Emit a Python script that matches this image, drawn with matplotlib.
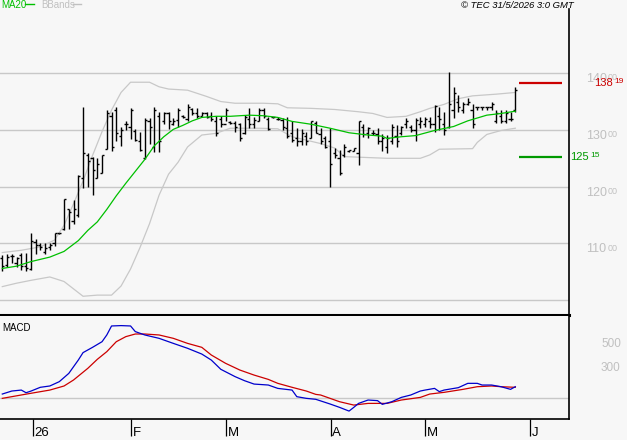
import matplotlib
matplotlib.use("Agg")
import matplotlib.pyplot as plt
import matplotlib.transforms as mtransforms

# ---------------- data ----------------
highs = [107.9, 108.1, 108.1, 107.6, 108.4, 108.4, 111.9, 110.8, 110.1, 110.0,
         110.0, 111.9, 111.9, 117.9, 116.0, 117.6, 122.1, 134.0, 126.0, 125.3,
         125.0, 125.6, 133.5, 133.2, 134.0, 130.6, 131.6, 133.8, 130.1, 129.7,
         132.1, 132.1, 134.0, 133.1, 133.1, 133.2, 132.1, 133.9, 132.6, 134.5,
         133.9, 133.8, 133.1, 133.1, 133.1, 132.4, 132.5, 133.8, 131.6, 131.6,
         131.3, 132.6, 133.9, 132.2, 133.8, 133.9, 132.2, 132.3, 132.2, 132.1,
         132.2, 131.5, 130.3, 130.1, 129.7, 131.6, 131.6, 130.3, 129.0, 130.3,
         126.8, 126.5, 127.5, 126.5, 126.9, 131.6, 131.0, 130.6, 130.0, 130.3,
         129.2, 129.1, 131.0, 130.9, 130.7, 132.1, 130.9, 132.1, 132.2, 132.2,
         132.3, 134.4, 134.1, 133.2, 140.2, 137.5, 136.2, 135.0, 135.6, 134.5,
         134.1, 134.1, 134.1, 135.0, 133.5, 133.5, 133.5, 133.2, 137.5]
lows = [105.2, 105.9, 106.6, 105.9, 105.4, 105.1, 105.3, 108.2, 108.8, 108.1,
        108.9, 109.5, 111.6, 112.4, 112.5, 113.5, 114.7, 119.7, 120.0, 118.5,
        121.5, 122.5, 126.6, 126.2, 128.0, 127.2, 130.0, 128.4, 128.0, 126.2,
        124.9, 127.5, 126.1, 126.1, 131.0, 130.2, 130.9, 130.6, 132.1, 131.6,
        132.6, 132.1, 132.4, 132.1, 131.6, 129.0, 130.6, 131.5, 131.0, 129.6,
        128.1, 129.2, 130.3, 130.3, 131.5, 132.1, 130.0, 132.1, 131.8, 130.0,
        128.5, 127.9, 127.1, 127.3, 127.3, 128.6, 129.4, 127.6, 126.8, 120.0,
        125.0, 122.1, 125.3, 126.1, 126.2, 123.8, 128.8, 128.5, 129.1, 127.6,
        126.2, 126.0, 127.5, 127.0, 129.1, 130.3, 129.7, 128.1, 130.3, 130.6,
        130.3, 129.7, 130.0, 129.1, 130.3, 132.1, 133.2, 132.9, 134.4, 130.3,
        133.5, 133.5, 133.5, 133.5, 131.2, 131.2, 131.2, 131.6, 133.2]
opens = [107.5, 106.2, 107.8, 106.5, 107.9, 106.0, 105.5, 110.2, 109.8, 108.5,
         109.3, 110.0, 111.8, 112.5, 116.0, 114.0, 115.0, 121.5, 125.5, 125.0,
         121.5, 122.5, 126.6, 132.5, 133.5, 129.0, 131.0, 130.5, 129.8, 128.0,
         125.0, 131.5, 127.0, 132.5, 131.5, 133.0, 131.0, 131.8, 132.4, 132.0,
         133.6, 133.0, 132.5, 132.9, 132.5, 131.5, 132.0, 131.0, 131.4, 131.3,
         131.0, 129.5, 132.0, 131.0, 131.5, 133.5, 132.0, 132.2, 132.0, 131.8,
         130.3, 129.5, 128.5, 128.0, 129.0, 128.5, 131.3, 129.3, 128.5, 128.0,
         126.0, 125.0, 125.5, 126.2, 126.3, 126.0, 130.5, 129.5, 129.5, 129.3,
         128.0, 127.0, 128.0, 129.0, 129.5, 131.0, 130.5, 130.0, 131.0, 131.0,
         131.5, 131.0, 132.5, 131.0, 130.5, 133.5, 135.0, 133.5, 134.5, 133.5,
         134.0, 134.0, 134.0, 134.0, 131.5, 132.5, 131.5, 132.0, 133.5]
closes = [106.0, 107.7, 107.8, 107.4, 106.0, 105.6, 110.5, 109.8, 109.4, 109.2,
          109.8, 111.8, 111.9, 117.8, 115.5, 116.0, 121.8, 126.0, 124.5, 123.0,
          124.0, 125.5, 133.0, 127.0, 129.5, 130.0, 131.0, 133.5, 128.3, 126.5,
          131.8, 130.5, 133.5, 128.0, 133.0, 131.5, 131.6, 133.5, 132.3, 134.0,
          133.0, 132.5, 132.9, 132.3, 132.0, 129.5, 131.0, 133.5, 131.3, 130.5,
          128.5, 132.3, 131.0, 131.8, 133.5, 132.4, 130.2, 132.2, 132.0, 130.5,
          129.0, 128.3, 128.0, 129.5, 128.0, 131.5, 129.5, 128.0, 127.0, 124.0,
          125.5, 122.5, 127.0, 126.4, 126.8, 131.5, 129.2, 130.3, 129.5, 128.0,
          128.5, 128.5, 130.5, 128.0, 130.5, 131.5, 130.0, 131.8, 131.5, 132.0,
          131.0, 134.2, 132.0, 130.0, 134.5, 136.5, 134.0, 134.5, 135.0, 131.0,
          134.0, 134.0, 134.0, 134.5, 133.0, 131.5, 133.0, 132.0, 137.0]

ma_pos = [0, 3, 6, 10, 13, 16, 18, 20, 22, 24, 26, 28, 30, 32, 34, 36, 38, 40,
          42, 45, 48, 52, 55, 58, 61, 65, 69, 73, 77, 80, 81, 84, 87, 91, 95, 98,
          102, 105, 108]
ma20 = [105.6, 106.0, 106.8, 107.6, 108.6, 110.5, 112.3, 113.8, 116.0, 118.4,
        120.6, 122.7, 124.8, 127.2, 128.8, 130.1, 130.8, 131.6, 132.2, 132.4,
        132.4, 132.6, 132.5, 132.2, 131.5, 131.0, 130.3, 129.5, 129.1, 128.9,
        128.5, 128.8, 129.0, 129.9, 130.6, 131.6, 132.6, 132.9, 133.3]

up_pos = [0, 4, 8, 11, 13, 15, 17, 19, 21, 23, 25, 27, 31, 33, 35, 39, 43, 46,
          49, 55, 58, 60, 65, 70, 75, 78, 81, 85, 88, 90, 93, 96, 99, 104, 108]
bb_up = [108.4, 108.8, 109.4, 110.6, 113.2, 117.0, 121.0, 125.5, 129.7, 133.5,
         136.6, 138.4, 138.4, 137.6, 137.2, 137.0, 135.9, 135.0, 134.7, 134.7,
         134.6, 133.9, 133.8, 133.6, 133.2, 132.9, 132.2, 132.4, 133.2, 133.8,
         134.5, 135.5, 136.0, 136.3, 136.6]

lo_pos = [0, 3, 6, 10, 13, 15, 17, 20, 23, 25, 27, 29, 31, 33, 35, 37, 39, 42,
          45, 48, 54, 58, 61, 67, 70, 72, 81, 88, 90, 92, 99, 100, 102, 105, 108]
bb_lo = [102.4, 103.0, 103.5, 104.1, 103.3, 102.0, 100.7, 100.9, 100.9, 102.5,
         105.5, 109.3, 113.5, 118.5, 122.2, 124.3, 127.0, 129.1, 129.4, 130.3,
         130.3, 130.2, 128.8, 127.6, 126.8, 125.3, 125.0, 125.0, 125.6, 126.6,
         126.7, 127.8, 129.2, 129.9, 130.3]

macd_pos = [0, 2, 4, 5, 6, 8, 10, 12, 14, 16, 17, 19, 21, 22, 23, 25, 27, 28,
            30, 33, 36, 39, 42, 44, 46, 49, 51, 53, 56, 58, 61, 62, 64, 66, 69,
            71, 73, 74, 75, 77, 79, 80, 82, 84, 86, 88, 89, 91, 92, 93, 96, 98,
            100, 101, 103, 105, 107, 108]
macd = [36, 61, 69, 47, 60, 92, 103, 139, 208, 319, 381, 425, 472, 528, 603,
        606, 603, 556, 528, 500, 458, 417, 369, 319, 242, 181, 147, 119, 111, 83,
        69, 14, 0, -8, -47, -75, -106, -75, -42, -14, -19, -50, -28, 8, 28, 61,
        69, 83, 56, 69, 89, 125, 125, 111, 111, 97, 75, 97]
sig_pos = [0, 4, 6, 10, 13, 15, 18, 20, 22, 24, 26, 28, 30, 33, 36, 39, 42, 44,
           47, 50, 53, 56, 58, 61, 64, 66, 67, 69, 71, 74, 77, 81, 84, 88, 90,
           93, 97, 100, 103, 105, 108]
signal = [0, 28, 42, 69, 103, 153, 250, 325, 389, 472, 514, 536, 536, 528, 500,
          458, 425, 361, 292, 236, 194, 158, 125, 92, 61, 33, 28, 0, -28, -56,
          -42, -42, -14, 8, 36, 50, 75, 97, 103, 97, 92]

grid_levels = [100, 110, 120, 130, 140]
price_labels = ["140", "130", "120", "110"]
price_label_levels = [140, 130, 120, 110]
macd_label_levels = [500, 300]
macd_labels = ["500", "300"]
month_pos = [6.5, 27.1, 47.1, 69.2, 89.0, 111.1]
month_labels = ["26", "F", "M", "A", "M", "J"]
high_level, high_text = 138.19, ("138", "19")
low_level, low_text = 125.15, ("125", "15")

# ---------------- figure ----------------
W, H = 627, 440
BG = "#f7f7f7"
FONT = "Liberation Sans"
plt.rcParams["font.family"] = [FONT, "DejaVu Sans"]

fig = plt.figure(figsize=(W / 100, H / 100), dpi=100, facecolor=BG)


def fx(px):
    return px / W


def fy(py):
    return 1 - py / H


ax = fig.add_axes([0, fy(315), fx(569), (315 - 9) / H], facecolor=BG)
mx = fig.add_axes([0, fy(419), fx(569), (419 - 316) / H], facecolor=BG)

x0 = -2.3 / 4.75
x1 = (569 - 2.3) / 4.75
for a in (ax, mx):
    a.set_xlim(x0, x1)
    for s in ("left", "top"):
        a.spines[s].set_visible(False)
    a.spines["right"].set_color("black")
    a.spines["right"].set_linewidth(1.2)

ax.set_ylim(97.4, 151.3)
ax.spines["bottom"].set_linewidth(2.2)
ax.spines["bottom"].set_color("black")
ax.set_yticks(grid_levels)
ax.set_xticks([])
ax.tick_params(left=False, labelleft=False)
ax.grid(axis="y", color="#c8c8c8", linewidth=1.0)
ax.set_axisbelow(True)

idx = list(range(len(highs)))
tick = 0.45
ax.plot(up_pos, bb_up, color="#c8c8c8", lw=0.9, zorder=2)
ax.plot(lo_pos, bb_lo, color="#c8c8c8", lw=0.9, zorder=2)
ax.vlines(idx, lows, highs, color="black", lw=1.0, zorder=3)
ax.hlines(opens, [i - tick for i in idx], idx, color="black", lw=1.0, zorder=3)
ax.hlines(closes, idx, [i + tick for i in idx], color="black", lw=1.0, zorder=3)
ax.plot(ma_pos, ma20, color="#00c000", lw=0.9, zorder=4)

# last-high / last-low markers
lx0 = (519 - 2.3) / 4.75
lx1 = (562 - 2.3) / 4.75
ax.hlines([high_level], lx0, lx1, color="#cc0000", lw=1.6, zorder=4)
ax.hlines([low_level], lx0, lx1, color="#009900", lw=1.6, zorder=4)

tr_main = mtransforms.blended_transform_factory(fig.transFigure, ax.transData)
for lvl, lab in zip(price_label_levels, price_labels):
    ax.text(fx(586), lvl, lab, transform=tr_main, ha="left", va="top",
            fontsize=9, color="#c0c0c0", clip_on=False)
    ax.text(fx(608), lvl - 0.05, "00", transform=tr_main, ha="left", va="top",
            fontsize=6.5, color="#c0c0c0", clip_on=False)

ax.text(fx(594), high_level, high_text[0], transform=tr_main, ha="left",
        va="center", fontsize=8, color="#cc0000", clip_on=False)
ax.text(fx(614), high_level + 0.35, high_text[1], transform=tr_main, ha="left",
        va="center", fontsize=6, color="#cc0000", clip_on=False)
ax.text(fx(570), low_level, low_text[0], transform=tr_main, ha="left",
        va="center", fontsize=8, color="#009900", clip_on=False)
ax.text(fx(590), low_level + 0.35, low_text[1], transform=tr_main, ha="left",
        va="center", fontsize=6, color="#009900", clip_on=False)

# header texts
fig.text(fx(1), fy(0.5), "MA20", ha="left", va="top", fontsize=7,
         color="#00c000")
fig.add_artist(plt.Line2D([fx(25), fx(34)], [fy(4.5), fy(4.5)],
                          color="#00c000", lw=1.0))
fig.text(fx(41), fy(0.5), "BBands", ha="left", va="top", fontsize=7,
         color="#c0c0c0")
fig.add_artist(plt.Line2D([fx(73), fx(81)], [fy(4.5), fy(4.5)],
                          color="#c0c0c0", lw=1.0))
fig.text(fx(574), fy(0.5), "\u00a9 TEC 31/5/2026 3:0 GMT", ha="right",
         va="top", fontsize=6.8, style="italic", color="black")

# ---------------- MACD panel ----------------
mx.set_ylim(-172, 686)
mx.spines["bottom"].set_linewidth(1.2)
mx.spines["bottom"].set_color("black")
mx.set_yticks([])
mx.axhline(0, color="#c8c8c8", lw=1.0, zorder=1)
mx.plot(sig_pos, signal, color="#cc0000", lw=0.9, zorder=3)
mx.plot(macd_pos, macd, color="#0000cc", lw=0.9, zorder=3)
mx.text(0.004, fy(323), "MACD", transform=mtransforms.blended_transform_factory(
    mx.transAxes, fig.transFigure), ha="left", va="top", fontsize=7,
    color="black")

tr_macd = mtransforms.blended_transform_factory(fig.transFigure, mx.transData)
for lvl, lab in zip(macd_label_levels, macd_labels):
    mx.text(fx(601), lvl, lab, transform=tr_macd, ha="left", va="top",
            fontsize=8.5, color="#c0c0c0", clip_on=False)

mx.set_xticks(month_pos)
mx.tick_params(axis="x", direction="out", length=12.5, width=0.9,
               color="black", labelbottom=False)
tr_x = mtransforms.blended_transform_factory(mx.transData, fig.transFigure)
for p, lab in zip(month_pos, month_labels):
    mx.text(p + 0.3, fy(438.5), lab, transform=tr_x, ha="left", va="bottom",
            fontsize=9.5, color="black", clip_on=False)

fig.savefig("out.png", dpi=100, facecolor=BG)
